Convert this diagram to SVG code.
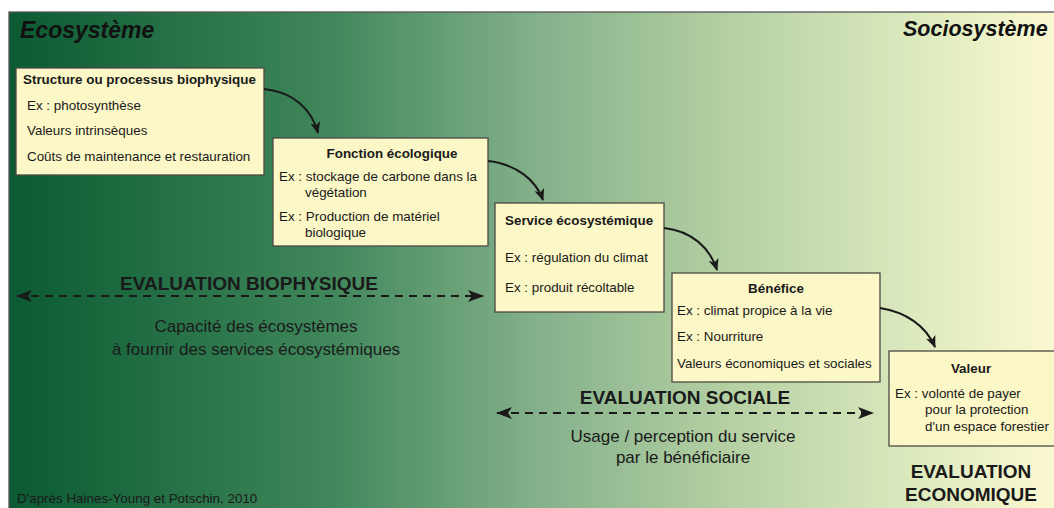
<svg xmlns="http://www.w3.org/2000/svg" width="1054" height="508" viewBox="0 0 1054 508">
<defs>
<linearGradient id="bg" x1="0" y1="0" x2="1" y2="0">
<stop offset="0" stop-color="#0b5a32"/>
<stop offset="0.3" stop-color="#3f865a"/>
<stop offset="0.5" stop-color="#83b08a"/>
<stop offset="0.68" stop-color="#b3cfa2"/>
<stop offset="0.85" stop-color="#d9e8bc"/>
<stop offset="1" stop-color="#fdf9d2"/>
</linearGradient>
<marker id="ah" viewBox="0 0 12 10" refX="11" refY="5" markerWidth="12" markerHeight="10" markerUnits="userSpaceOnUse" orient="auto">
<path d="M0,0 L12,5 L0,10 L3,5 Z" fill="#1a1a1a"/>
</marker>
<marker id="dh" viewBox="0 0 16 12" refX="15" refY="6" markerWidth="16" markerHeight="12" markerUnits="userSpaceOnUse" orient="auto-start-reverse">
<path d="M0,0 L16,6 L0,12 L4,6 Z" fill="#1a1a1a"/>
</marker>
</defs>
<style>
.box{fill:#fbf7c6;stroke:#4a4a44;stroke-width:1.3}
.t{font-family:"Liberation Sans",Arial,sans-serif;font-size:13.4px;fill:#1a1a1a}
.b{font-weight:bold}
.c{text-anchor:middle}
.h{font-family:"Liberation Sans",Arial,sans-serif;font-size:19px;font-weight:bold;fill:#1a1a1a;text-anchor:middle}
.s{font-family:"Liberation Sans",Arial,sans-serif;font-size:17px;fill:#1a1a1a;text-anchor:middle}
.sys{font-family:"Liberation Sans",Arial,sans-serif;font-size:23px;font-weight:bold;font-style:italic;fill:#111}
.con{fill:none;stroke:#1a1a1a;stroke-width:2}
.dash{fill:none;stroke:#1a1a1a;stroke-width:2;stroke-dasharray:8 6}
</style>
<rect x="9" y="12" width="1050" height="500" fill="url(#bg)" stroke="#555" stroke-width="1.3"/>
<text class="sys" x="20" y="38">Ecosystème</text>
<text class="sys" x="903" y="36" style="font-size:21.5px">Sociosystème</text>

<g id="node-structure">
<rect class="box" x="16" y="68" width="248" height="107"/>
<text class="t b" x="23" y="84">Structure ou processus biophysique</text>
<text class="t" x="27" y="110">Ex : photosynthèse</text>
<text class="t" x="27" y="135">Valeurs intrinsèques</text>
<text class="t" x="27" y="161">Coûts de maintenance et restauration</text>
</g>
<g id="node-fonction">
<rect class="box" x="273" y="138" width="215" height="108"/>
<text class="t b c" x="392" y="158">Fonction écologique</text>
<text class="t" x="279" y="181">Ex : stockage de carbone dans la</text>
<text class="t" x="305" y="197">végétation</text>
<text class="t" x="279" y="221">Ex : Production de matériel</text>
<text class="t" x="305" y="237">biologique</text>
</g>
<g id="node-service">
<rect class="box" x="495" y="203" width="169" height="109"/>
<text class="t b" x="505" y="225">Service écosystémique</text>
<text class="t" x="505" y="262">Ex : régulation du climat</text>
<text class="t" x="505" y="292">Ex : produit récoltable</text>
</g>
<g id="node-benefice">
<rect class="box" x="672" y="273" width="208" height="109"/>
<text class="t b c" x="776" y="293">Bénéfice</text>
<text class="t" x="677" y="315">Ex : climat propice à la vie</text>
<text class="t" x="677" y="341">Ex : Nourriture</text>
<text class="t" x="677" y="368">Valeurs économiques et sociales</text>
</g>
<g id="node-valeur">
<rect class="box" x="889" y="351" width="170" height="95"/>
<text class="t b c" x="971" y="373">Valeur</text>
<text class="t" x="895" y="398">Ex : volonté de payer</text>
<text class="t" x="925" y="414">pour la protection</text>
<text class="t" x="925" y="431">d'un espace forestier</text>
</g>

<g id="connectors">
<path class="con" d="M264,89 C294,92 312,110 318,133" marker-end="url(#ah)"/>
<path class="con" d="M488,161 C516,164 536,180 543,200" marker-end="url(#ah)"/>
<path class="con" d="M664,228 C692,231 710,248 717,270" marker-end="url(#ah)"/>
<path class="con" d="M880,308 C906,312 926,326 935,347" marker-end="url(#ah)"/>
<path class="dash" d="M17,296 L483,296" marker-start="url(#dh)" marker-end="url(#dh)"/>
<path class="dash" d="M497,413 L873,413" marker-start="url(#dh)" marker-end="url(#dh)"/>
</g>

<text class="h" x="249" y="290">EVALUATION BIOPHYSIQUE</text>
<text class="s" x="256" y="332">Capacité des écosystèmes</text>
<text class="s" x="256" y="355">à fournir des services écosystémiques</text>
<text class="h" x="685" y="404">EVALUATION SOCIALE</text>
<text class="s" x="683" y="442">Usage / perception du service</text>
<text class="s" x="683" y="463">par le bénéficiaire</text>
<text class="h" x="971" y="478">EVALUATION</text>
<text class="h" x="971" y="501">ECONOMIQUE</text>
<text class="t" x="17" y="503">D'après Haines-Young et Potschin, 2010</text>
</svg>
